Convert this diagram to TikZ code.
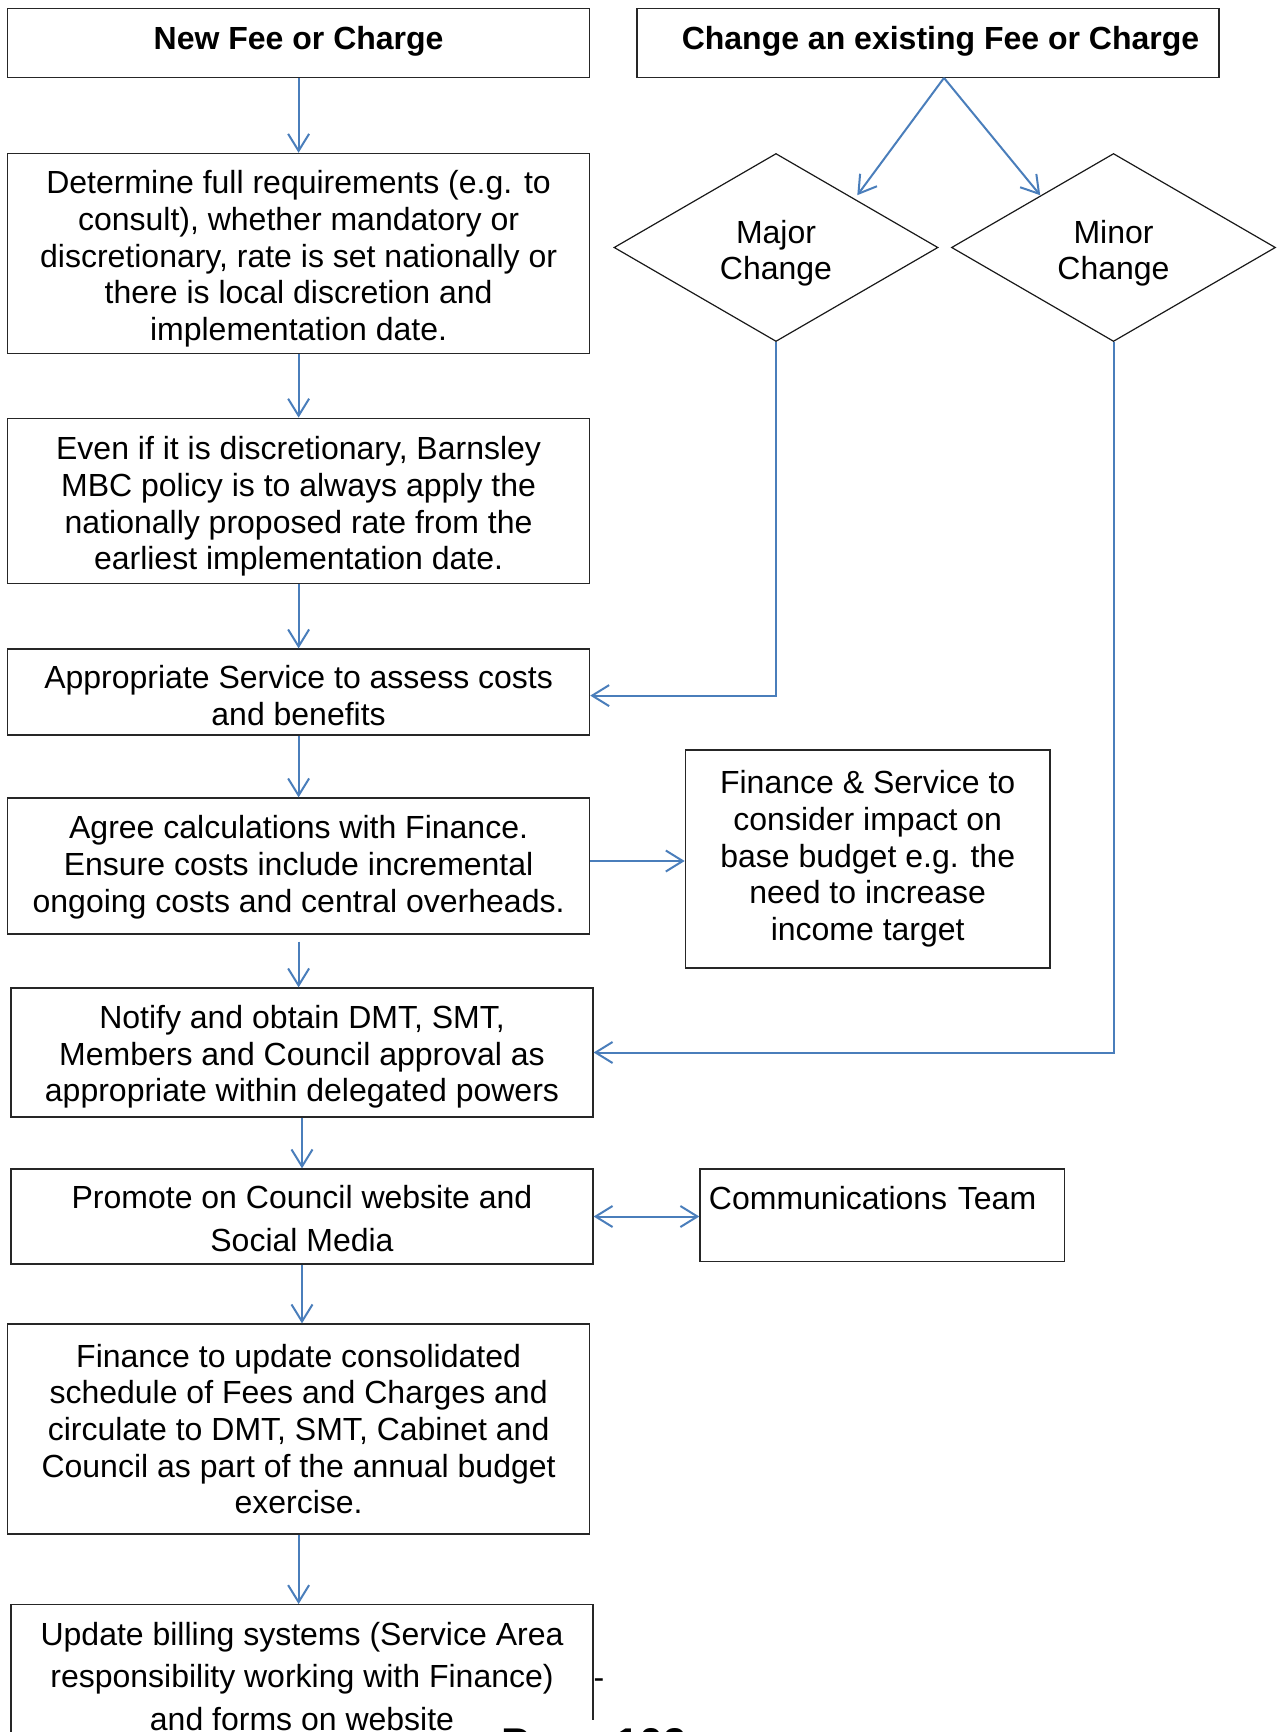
\documentclass[tikz,border=0pt]{standalone}
\usepackage{fontspec}
\setmainfont{Liberation Sans}
\usetikzlibrary{arrows.meta,shapes.geometric}
\definecolor{arrowblue}{RGB}{74,126,187}
\newcommand\strutup[1]{\rule{0pt}{#1}}

\begin{document}
\begin{tikzpicture}[x=1pt, y=-1pt, font=\fontsize{32}{36.7}\selectfont,
  box/.style={draw=black!85, line width=1.3pt, align=center, inner sep=0pt, minimum width=582pt},
  heading/.style={box, minimum height=68.5pt, text depth=11pt, font=\bfseries\fontsize{32}{36.7}\selectfont},
  choice/.style={diamond, draw=black!90, line width=1.2pt, aspect=1.72, inner sep=0pt,
    minimum width=324pt, minimum height=188pt, align=center},
  flow/.style={draw=arrowblue, line width=2pt, ->},
  >={Straight Barb[length=17pt, width=21pt]}]
  \useasboundingbox (0,0) rectangle (1283,1732);

  % left column
  \node[heading] (newfee) at (298.6,43) {New Fee or Charge};
  \node[box, minimum height=200pt] (determine) at (298.6,253.4) {\strutup{34.4pt}Determine full requirements (e.g. to\\consult), whether mandatory or\\discretionary, rate is set nationally or\\there is local discretion and\\implementation date.};
  \node[box, minimum height=165.5pt] (evenif) at (298.6,501) {\strutup{34.4pt}Even if it is discretionary, Barnsley\\MBC policy is to always apply the\\nationally proposed rate from the\\earliest implementation date.};
  \node[box, minimum height=86pt] (assess) at (298.6,692) {\strutup{30pt}Appropriate Service to assess costs\\and benefits};
  \node[box, minimum height=136pt] (agree) at (298.6,866) {\strutup{25.4pt}Agree calculations with Finance.\\Ensure costs include incremental\\ongoing costs and central overheads.};
  \node[box, minimum height=129pt] (notify) at (302,1052.5) {\strutup{32.2pt}Notify and obtain DMT, SMT,\\Members and Council approval as\\appropriate within delegated powers};
  \node[box, minimum height=95pt, font=\fontsize{32}{43}\selectfont] (promote) at (302,1216.5) {\strutup{27.8pt}Promote on Council website and\\Social Media};
  \node[box, minimum height=210pt] (finupdate) at (298.6,1429) {Finance to update consolidated\\schedule of Fees and Charges and\\circulate to DMT, SMT, Cabinet and\\Council as part of the annual budget\\exercise.};
  \node[box, anchor=north, text height=125.5pt, text depth=50pt, font=\fontsize{32}{42.5}\selectfont] (billing) at (302,1604) {Update billing systems (Service Area\\responsibility working with Finance)\\and forms on website};
  \node[anchor=west, inner sep=0pt] (billdash) at (593.5,1683.5) {-};

  % right column
  \node[heading] (changefee) at (928,43) {\hspace*{25pt}Change an existing Fee or Charge};
  \node[choice] (major) at (776,247.5) {\strutup{34.4pt}Major\\Change};
  \node[choice] (minor) at (1113.5,247.5) {\strutup{34.4pt}Minor\\Change};
  \node[box, minimum width=364.7pt, minimum height=218pt] (finserv) at (867.7,859) {Finance \& Service to\\consider impact on\\base budget e.g. the\\need to increase\\income target};
  \node[box, anchor=north west, align=left, minimum width=0pt, text width=346.7pt, inner xsep=9pt,
    text height=40.2pt, text depth=52.2pt] (comms) at (699.3,1168.3) {Communications Team};

  % footer
  \node[fill=white, anchor=north west, inner xsep=21pt, inner ysep=0pt, text height=37.8pt, text depth=20pt,
    font=\bfseries\fontsize{43}{50}\selectfont] (pagenum) at (480,1720) {Page 109};

  % connectors
  \foreach \a/\b in {newfee/determine, determine/evenif, evenif/assess, assess/agree,
                     notify/promote, promote/finupdate, finupdate/billing}
    \draw[flow] (\a.south) -- (\a.south |- \b.north);
  \draw[flow, shorten <=7pt] (agree.south) -- (agree.south |- notify.north);
  \draw[flow] ([xshift=16pt]changefee.south) -- ([yshift=5pt]major.north east);
  \draw[flow] ([xshift=16pt]changefee.south) -- ([xshift=8pt, yshift=5pt]minor.north west);
  \draw[flow] (major.south) |- ([yshift=-3.6pt]assess.east);
  \draw[flow] (minor.south) |- (notify.east);
  \draw[flow] ([yshift=5pt]agree.east) -- ([yshift=5pt]agree.east -| finserv.west);
  \draw[flow, <->] (promote.east) -- (comms.west |- promote.east);
\end{tikzpicture}
\end{document}
